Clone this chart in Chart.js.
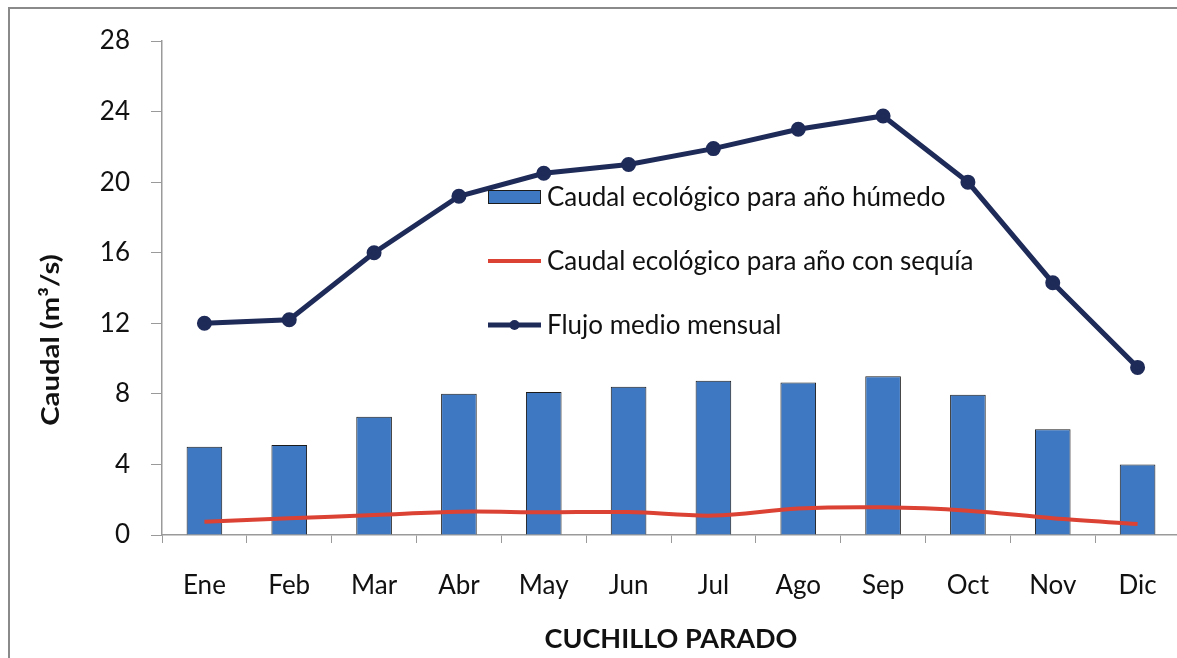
<!DOCTYPE html>
<html>
<head>
<meta charset="utf-8">
<script src="https://cdn.jsdelivr.net/npm/chart.js@4.4.1/dist/chart.umd.min.js"></script>
<style>
  html, body { margin: 0; padding: 0; background: #fff; overflow: hidden; }
  /* plot runs a little past the right edge of the picture, as in the original */
  #wrap { position: relative; width: 1177px; height: 658px; overflow: hidden; }
</style>
</head>
<body>
<div id="wrap"><canvas id="chart" width="1190" height="658"></canvas></div>
<script>
// months shown on the x axis
const months = ["Ene", "Feb", "Mar", "Abr", "May", "Jun", "Jul", "Ago", "Sep", "Oct", "Nov", "Dic"];

// values (m3/s)
const caudalHumedo = [5.0, 5.1, 6.7, 8.0, 8.1, 8.4, 8.75, 8.65, 9.0, 7.95, 6.0, 4.0];
const caudalSequia = [0.75, 0.95, 1.13, 1.32, 1.29, 1.3, 1.1, 1.5, 1.57, 1.38, 0.95, 0.62];
const flujoMedio = [12.0, 12.2, 16.0, 19.2, 20.5, 21.0, 21.9, 23.0, 23.75, 20.0, 14.3, 9.5];

// y axis range
const yMin = 0;
const yMax = 28;
const yStep = 4;

const FONT = "Lato, 'Open Sans', sans-serif";
const yTitle = "Caudal (m³/s)";

// white page + grey frame on top and left, plus the y axis title
const framePlugin = {
  id: "frame",
  beforeDraw(chart) {
    const ctx = chart.ctx;
    ctx.save();
    ctx.fillStyle = "#fff";
    ctx.fillRect(0, 0, chart.width, chart.height);
    ctx.strokeStyle = "#8a8a8a";
    ctx.lineWidth = 2;
    ctx.beginPath();
    ctx.moveTo(9, chart.height);
    ctx.lineTo(9, 8);
    ctx.lineTo(chart.width, 8);
    ctx.stroke();
    ctx.restore();
  },
  afterDraw(chart) {
    // the original title sits lower than the middle of the axis and is a bit stretched
    const ctx = chart.ctx;
    ctx.save();
    ctx.translate(51, 340);
    ctx.rotate(-Math.PI / 2);
    ctx.scale(1.22, 1);
    ctx.font = "bold 24px " + FONT;
    ctx.fillStyle = "#111";
    ctx.textAlign = "center";
    ctx.textBaseline = "middle";
    ctx.fillText(yTitle, 0, 0);
    ctx.restore();
  }
};

// legend drawn inside the plot, stacked, like the original
const innerLegend = {
  id: "innerLegend",
  afterDatasetsDraw(chart) {
    const ctx = chart.ctx;
    const x0 = 488, x1 = 541, textX = 547;
    const rows = [197, 261, 325];
    ctx.save();
    ctx.font = "26px " + FONT;
    ctx.textBaseline = "middle";
    chart.data.datasets.forEach((ds, i) => {
      const y = rows[i];
      if (ds.type === "bar") {
        ctx.fillStyle = ds.backgroundColor;
        ctx.fillRect(x0, y - 7, x1 - x0, 14);
        ctx.strokeStyle = ds.borderColor;
        ctx.lineWidth = 1;
        ctx.strokeRect(x0 + 0.5, y - 6.5, x1 - x0 - 1, 13);
      } else {
        ctx.strokeStyle = ds.borderColor;
        ctx.lineWidth = ds.borderWidth;
        ctx.beginPath();
        ctx.moveTo(x0, y);
        ctx.lineTo(x1, y);
        ctx.stroke();
        if (ds.pointRadius > 0) {
          ctx.fillStyle = ds.pointBackgroundColor;
          ctx.beginPath();
          ctx.arc((x0 + x1) / 2, y, ds.pointRadius, 0, Math.PI * 2);
          ctx.fill();
        }
      }
      ctx.fillStyle = "#111";
      ctx.fillText(ds.label, textX, y + 1);
    });
    ctx.restore();
  }
};

new Chart(document.getElementById("chart"), {
  data: {
    labels: months,
    datasets: [
      {
        type: "bar",
        label: "Caudal ecológico para año húmedo",
        data: caudalHumedo,
        backgroundColor: "#3e78c2",
        borderColor: "#1b1b1b",
        borderWidth: 1,
        barPercentage: 0.42,
        categoryPercentage: 1.0,
        order: 3
      },
      {
        type: "line",
        label: "Caudal ecológico para año con sequía",
        data: caudalSequia,
        borderColor: "#dc4234",
        borderWidth: 4,
        pointRadius: 0,
        tension: 0.35,
        order: 2
      },
      {
        type: "line",
        label: "Flujo medio mensual",
        data: flujoMedio,
        borderColor: "#1e2a58",
        backgroundColor: "#1e2a58",
        pointBackgroundColor: "#1e2a58",
        pointBorderColor: "#1e2a58",
        borderWidth: 5,
        pointRadius: 5,
        tension: 0,
        order: 1
      }
    ]
  },
  options: {
    responsive: false,
    animation: false,
    layout: { padding: { top: 41, right: 8, left: 0, bottom: 0 } },
    plugins: {
      legend: { display: false },
      tooltip: { enabled: false }
    },
    scales: {
      x: {
        offset: true,
        grid: {
          offset: true,
          drawOnChartArea: false,
          drawTicks: true,
          tickLength: 8,
          color: "#9a9a9a"
        },
        border: { color: "#9a9a9a", width: 1.5 },
        ticks: {
          color: "#111",
          padding: 27,
          maxRotation: 0,
          font: { family: FONT, size: 26 }
        },
        title: {
          display: true,
          text: "CUCHILLO PARADO",
          color: "#111",
          font: { family: FONT, size: 27, weight: "bold" },
          padding: { top: 0, bottom: 3 }
        },
        afterFit(scale) { scale.height = 123; }
      },
      y: {
        min: yMin,
        max: yMax,
        grid: {
          drawOnChartArea: false,
          drawTicks: true,
          tickLength: 11,
          color: "#9a9a9a"
        },
        border: { color: "#9a9a9a", width: 1.5 },
        ticks: {
          stepSize: yStep,
          color: "#111",
          padding: 21,
          font: { family: FONT, size: 26 }
        },
        title: { display: false },
        afterFit(scale) { scale.width = 162; }
      }
    }
  },
  plugins: [framePlugin, innerLegend]
});
</script>
</body>
</html>
